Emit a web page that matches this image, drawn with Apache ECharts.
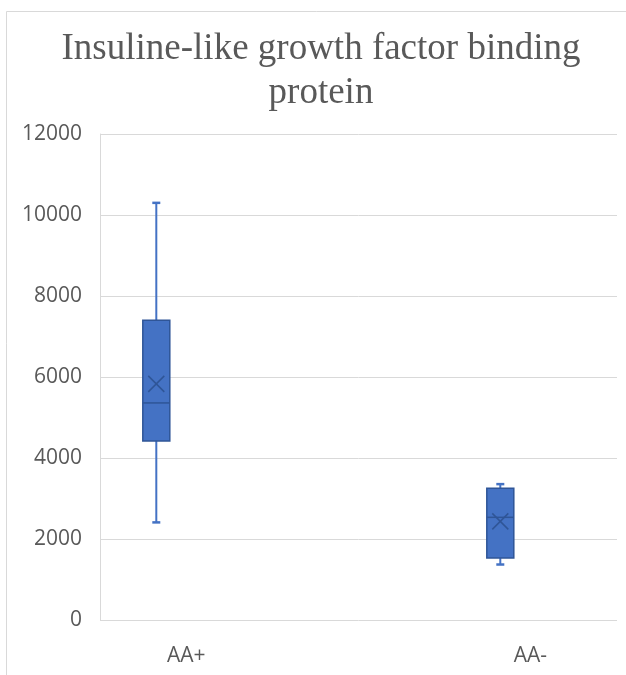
<!DOCTYPE html>
<html>
<head>
<meta charset="utf-8">
<script src="https://cdn.jsdelivr.net/npm/echarts@6/dist/echarts.min.js"></script>
<style>
html,body{margin:0;padding:0;background:#ffffff;}
#chart{width:626px;height:675px;}
</style>
</head>
<body>
<div id="chart"></div>
<script>
// ---- data ----
const categories = ['AA+', 'AA-'];
const minValues = [2410, 1370];
const q1Values = [4420, 1530];
const medianValues = [5360, 2535];
const q3Values = [7400, 3255];
const maxValues = [10300, 3355];
const meanValues = [5830, 2435];
const yMin = 0, yMax = 12000, yInterval = 2000;
const titleText = 'Insuline-like growth factor binding\nprotein';

const seriesData = categories.map((c, i) => [i, minValues[i], q1Values[i], medianValues[i], q3Values[i], maxValues[i], meanValues[i]]);

const fillColor = '#4472C4';
const darkColor = '#2F5597';

function renderItem(params, api) {
  const c = api.value(0);
  const pMin = api.coord([c, api.value(1)]);
  const pQ1 = api.coord([c, api.value(2)]);
  const pMed = api.coord([c, api.value(3)]);
  const pQ3 = api.coord([c, api.value(4)]);
  const pMax = api.coord([c, api.value(5)]);
  const pMean = api.coord([c, api.value(6)]);
  const x = pQ1[0];
  const hw = 13.5, cap = 4, xs = 8;
  const wStyle = {stroke: fillColor, lineWidth: 2};
  const dStyle = {stroke: darkColor, lineWidth: 1.5};
  return {
    type: 'group',
    children: [
      {type: 'line', shape: {x1: x, y1: pQ3[1], x2: x, y2: pMax[1]}, style: wStyle},
      {type: 'line', shape: {x1: x, y1: pQ1[1], x2: x, y2: pMin[1]}, style: wStyle},
      {type: 'line', shape: {x1: x - cap, y1: pMax[1], x2: x + cap, y2: pMax[1]}, style: {stroke: fillColor, lineWidth: 2.5}},
      {type: 'line', shape: {x1: x - cap, y1: pMin[1], x2: x + cap, y2: pMin[1]}, style: {stroke: fillColor, lineWidth: 2.5}},
      {type: 'rect', shape: {x: x - hw, y: pQ3[1], width: hw * 2, height: pQ1[1] - pQ3[1]}, style: {fill: fillColor, stroke: darkColor, lineWidth: 1.5}},
      {type: 'line', shape: {x1: x - hw, y1: pMed[1], x2: x + hw, y2: pMed[1]}, style: dStyle},
      {type: 'line', shape: {x1: x - xs, y1: pMean[1] - xs, x2: x + xs, y2: pMean[1] + xs}, style: dStyle},
      {type: 'line', shape: {x1: x - xs, y1: pMean[1] + xs, x2: x + xs, y2: pMean[1] - xs}, style: dStyle}
    ]
  };
}

const chart = echarts.init(document.getElementById('chart'), null, {renderer: 'canvas'});
const labelFont = {fontFamily: 'Open Sans', fontSize: 21, color: '#595959'};
chart.setOption({
  animation: false,
  backgroundColor: '#ffffff',
  title: {
    text: titleText,
    left: 321,
    top: 27,
    padding: 0,
    textAlign: 'center',
    textStyle: {fontFamily: 'Liberation Serif', fontSize: 37, fontWeight: 'normal', color: '#595959', lineHeight: 44}
  },
  graphic: [{
    type: 'rect', silent: true, z: -10,
    shape: {x: 6.5, y: 11.5, width: 700, height: 700},
    style: {fill: 'none', stroke: '#d9d9d9', lineWidth: 1}
  }],
  grid: [
    {left: 100, right: 9, top: 134, bottom: 55, containLabel: false, outerBoundsMode: 'none'},
    {left: -15.7, width: 688, top: 134, bottom: 55, containLabel: false, outerBoundsMode: 'none'}
  ],
  xAxis: [
    {gridIndex: 0, type: 'category', data: categories, show: false},
    {gridIndex: 1, type: 'category', data: categories,
     axisLine: {show: false}, axisTick: {show: false}, splitLine: {show: false},
     axisLabel: Object.assign({margin: 26, padding: [0, 0, 0, 60]}, labelFont)}
  ],
  yAxis: [
    {gridIndex: 0, type: 'value', min: yMin, max: yMax, interval: yInterval,
     axisLine: {show: true, lineStyle: {color: '#d9d9d9', width: 1}},
     axisTick: {show: false},
     splitLine: {show: true, lineStyle: {color: '#d9d9d9', width: 1}},
     axisLabel: Object.assign({margin: 18, formatter: v => String(v)}, labelFont)},
    {gridIndex: 1, type: 'value', min: yMin, max: yMax, interval: yInterval, show: false, splitLine: {show: false}}
  ],
  series: [{
    type: 'custom',
    xAxisIndex: 1,
    yAxisIndex: 1,
    renderItem: renderItem,
    encode: {x: 0, y: [1, 2, 3, 4, 5, 6]},
    data: seriesData
  }]
});
</script>
</body>
</html>
